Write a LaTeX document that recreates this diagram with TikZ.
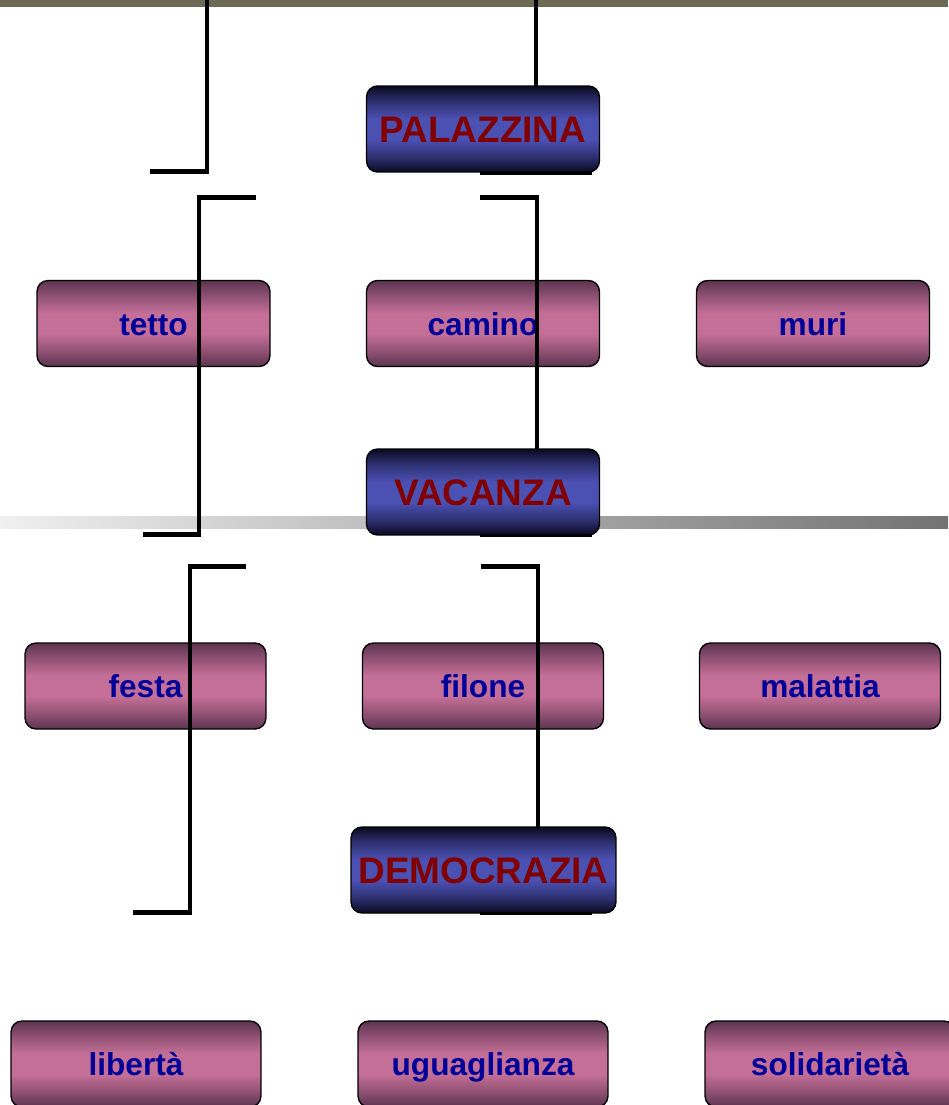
\documentclass[tikz,border=0pt]{standalone}
\usepackage{fontspec}
\setmainfont{Liberation Sans}
\usetikzlibrary{positioning}
\pgfdeclarelayer{back}
\pgfdeclarelayer{mid}
\pgfsetlayers{back,mid,main}
\definecolor{pinkdark}{HTML}{5C344F}
\definecolor{pinklight}{HTML}{C46F98}
\definecolor{bluedark}{HTML}{0A0A20}
\definecolor{bluelight}{HTML}{4B50B3}
\definecolor{textblue}{HTML}{000099}
\definecolor{textred}{HTML}{800000}
\definecolor{topbar}{HTML}{6C6A55}
\pgfdeclareverticalshading{pinkshade}{100bp}{color(0bp)=(pinkdark); color(25bp)=(pinkdark);
	color(33bp)=(pinkdark!55!pinklight); color(44bp)=(pinklight); color(56bp)=(pinklight);
	color(67bp)=(pinkdark!55!pinklight); color(75bp)=(pinkdark); color(100bp)=(pinkdark)}
\pgfdeclareverticalshading{blueshade}{100bp}{color(0bp)=(bluedark); color(25bp)=(bluedark);
	color(33bp)=(bluedark!50!bluelight); color(44bp)=(bluelight); color(56bp)=(bluelight);
	color(67bp)=(bluedark!50!bluelight); color(75bp)=(bluedark); color(100bp)=(bluedark)}
\tikzset{
	x=0.02cm, y=-0.02cm,
	every node/.style={inner sep=0pt, outer sep=0pt, align=center},
	idea/.style={rounded corners=0.22cm, draw, line width=0.8pt, minimum width=4.66cm, minimum height=1.72cm,
		shading=pinkshade, text height=13.6pt, text depth=0pt,
		text=textblue, font=\fontsize{18}{21}\selectfont\bfseries},
	topic/.style={idea, shading=blueshade, text height=15.8pt,
		text=textred, font=\fontsize{21}{25}\selectfont\bfseries},
	bracket/.style={line width=2.8pt, line join=miter}
}

\begin{document}
\begin{tikzpicture}
	\useasboundingbox (0,0) rectangle (948,1105);
	
	\begin{pgfonlayer}{back}
		% bars
		\fill[topbar] (0,0) rectangle (948,7);
		\shade[left color=black!6, right color=black!55] (0,516) rectangle (948,528);
		
		\node[idea] (tetto) at (153.5,323.5) {tetto};
		\node[idea] (camino) at (483,323.5) {camino};
		\node[idea] (muri) at (813,323.5) {muri};
		
		\node[idea, minimum width=4.82cm] (festa) at (145.5,686) {festa};
		\node[idea, minimum width=4.82cm] (filone) at (483,686) {filone};
		\node[idea, minimum width=4.82cm] (malattia) at (820,686) {malattia};
		
		\node[idea, minimum width=5cm] (liberta) at (136,1064) {libertà};
		\node[idea, minimum width=5cm] (uguaglianza) at (483,1064) {uguaglianza};
		\node[idea, minimum width=5cm] (solidarieta) at (830,1064) {solidarietà};
	\end{pgfonlayer}
	
	\node[topic] (palazzina) at (483,129) {PALAZZINA};
	\node[topic] (vacanza) at (483,492) {VACANZA};
	\node[topic, minimum width=5.3cm] (democrazia) at (483.5,870) {DEMOCRAZIA};
	
	\begin{pgfonlayer}{mid}
		\coordinate (a1) at (207,0);
		\coordinate (a2) at (150,171.5);
		\coordinate (a3) at (536,0);
		\draw[bracket] (a1) |- (a2);
		\draw[bracket] (a3) -- (a3 |- palazzina.center);
		\draw[bracket] (480,173) -- (592,173);
		
		\coordinate (b1) at (256,197.5);
		\coordinate (b2) at (143,534.5);
		\coordinate (b3) at (480,197.5);
		\draw[bracket] (b1) -- (199,197.5) |- (b2);
		\draw[bracket] (b3) -| (vacanza.center -| 537,0);
		\draw[bracket] (480,534.5) -- (592,534.5);
		
		\coordinate (c1) at (246,566.5);
		\coordinate (c2) at (133,912.5);
		\coordinate (c3) at (481,566.5);
		\draw[bracket] (c1) -- (190,566.5) |- (c2);
		\draw[bracket] (c3) -| (democrazia.center -| 538,0);
		\draw[bracket] (480,912.5) -- (592,912.5);
	\end{pgfonlayer}
	
\end{tikzpicture}
\end{document}
